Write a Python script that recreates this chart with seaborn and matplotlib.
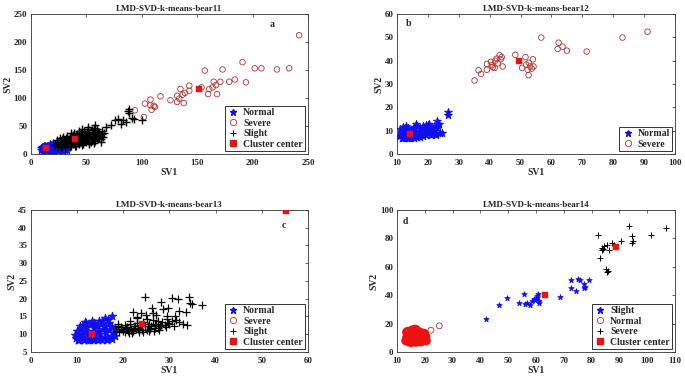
import matplotlib
matplotlib.use("Agg")
import matplotlib.pyplot as plt
import seaborn as sns
from matplotlib.lines import Line2D

sns.set_theme(style="white")
plt.rcParams.update({
    "font.family": ["Liberation Serif", "DejaVu Serif"],
    "font.weight": "bold",
    "font.size": 6.5,
    "axes.edgecolor": "#333333",
    "axes.linewidth": 0.6,
    "xtick.direction": "in",
    "ytick.direction": "in",
    "xtick.top": True,
    "ytick.right": True,
    "xtick.major.size": 2,
    "ytick.major.size": 2,
    "xtick.major.width": 0.5,
    "ytick.major.width": 0.5,
    "xtick.major.pad": 3.5,
    "ytick.major.pad": 2.5,
})

BLUE = "#1010ee"
DRED = "#b8302c"
RED = "#ee1111"

# ---------------- bear11 (a) ----------------
a_norm_x = [9, 10, 11, 12, 12, 13, 14, 14, 15, 16, 16, 17, 18, 18, 19, 20, 20, 21, 22, 22,
            23, 24, 24, 25, 26, 26, 27, 28, 28, 29, 30, 31, 32, 10, 13, 17, 20, 23, 15, 19,
            11, 14, 17, 21, 25, 29, 33, 12, 16, 20, 9, 11, 13, 15, 18, 22, 26, 30, 24, 27]
a_norm_y = [8, 10, 7, 9, 12, 8, 10, 13, 7, 9, 12, 14, 8, 11, 13, 9, 16, 7, 11, 14,
            9, 12, 17, 8, 10, 14, 18, 9, 12, 7, 10, 8, 9, 12, 15, 17, 19, 19, 11, 6,
            6, 6, 6, 6, 6, 6, 7, 14, 15, 16, 11, 13, 11, 14, 16, 18, 16, 13, 20, 15]
a_sev_x = [94, 102, 103, 108, 108, 109, 112, 111, 117, 126, 132, 132, 134, 135, 137, 138, 139,
           143, 143, 154, 157, 160, 161, 164, 165, 168, 167, 171, 173, 179, 184, 191, 194, 202,
           208, 222, 233, 242]
a_sev_y = [78, 66, 90, 97, 87, 79, 84, 86, 103, 96, 104, 93, 99, 116, 106, 91, 109,
           122, 113, 119, 149, 107, 116, 119, 129, 107, 123, 129, 151, 129, 133, 164, 128, 153,
           153, 151, 153, 212]
a_sli_x = [22, 24, 25, 26, 27, 28, 28, 30, 30, 31, 32, 32, 33, 34, 35, 35, 36, 37, 37, 38,
           38, 39, 40, 40, 41, 42, 42, 43, 43, 44, 45, 45, 46, 47, 47, 48, 48, 49, 50, 50,
           51, 52, 52, 53, 54, 54, 55, 55, 56, 57, 57, 58, 58, 59, 60, 60, 61, 62, 62, 63,
           64, 65, 58, 59, 52, 46, 44, 36, 33, 29, 26, 24, 35, 40, 46, 53, 57, 63,
           66, 68, 72, 76, 79, 81, 83, 86, 89, 89, 91, 100, 88, 93,
           27, 31, 34, 39, 44, 49, 55, 61, 36, 42, 48, 56,
           29, 33, 38, 41, 45, 50, 53, 56, 59, 62, 31, 37, 43, 47, 51, 55, 60, 64,
           34, 39, 42, 46, 49, 54, 57, 61, 40, 44, 51, 53, 38, 48]
a_sli_y = [16, 20, 14, 18, 22, 15, 26, 19, 24, 13, 21, 29, 17, 25, 20, 31, 15, 23, 28, 18,
           34, 26, 21, 30, 15, 25, 36, 19, 32, 27, 22, 38, 30, 18, 34, 25, 41, 29, 21, 36,
           32, 26, 44, 38, 22, 30, 35, 42, 27, 33, 47, 24, 38, 30, 36, 44, 28, 33, 40, 26,
           36, 31, 52, 40, 48, 44, 41, 38, 33, 30, 28, 25, 12, 14, 16, 17, 20, 22,
           38, 48, 52, 61, 63, 53, 60, 58, 81, 73, 64, 60, 76, 63,
           13, 17, 20, 24, 20, 24, 28, 32, 26, 30, 34, 40,
           22, 27, 30, 33, 35, 31, 28, 39, 34, 29, 17, 21, 23, 25, 28, 33, 31, 41,
           23, 38, 29, 26, 33, 26, 36, 40, 17, 17, 39, 20, 24, 37]
a_cen_x = [14, 40, 152]
a_cen_y = [11, 27, 116]

# ---------------- bear12 (b) ----------------
b_norm_x = [11, 11.5, 12, 12, 12.5, 13, 13, 13.5, 14, 14, 14.5, 15, 15, 15.5, 16, 16, 16.5, 17,
            17, 17.5, 18, 18, 18.5, 19, 19, 19.5, 20, 20, 20.5, 21, 21, 21.5, 22, 22, 22.5, 23,
            23, 23.5, 24, 24.5, 11, 12, 13, 10.8, 26.6, 26.6, 23.2, 16, 20, 11.5, 12.5, 13.5,
            14.5, 15.5, 16.5, 17.5, 18.5, 19.5, 21, 22.5]
b_norm_y = [7.5, 9, 7, 8.5, 10, 7.5, 9, 11, 7, 8.5, 10, 7.5, 9.5, 11.5, 8, 10, 12, 7.5,
            9, 11, 8, 10, 12, 8.5, 10.5, 12.5, 9, 11, 13, 9.5, 11.5, 8.5, 10, 12, 9, 11,
            14, 13, 9, 9, 10.5, 11.5, 12, 8, 16.8, 18, 12.5, 13, 12.5, 6.8, 6.8, 6.9,
            7, 7, 7.2, 7.4, 7.6, 8, 8, 8.2]
b_sev_x = [35.1, 36.4, 37.2, 39.1, 39.1, 40.4, 40.7, 41.0, 41.6, 41.8, 42.3, 42.6, 43.2, 43.6,
           44.2, 43.9, 48.3, 50.5, 51.6, 51.8, 52.3, 52.6, 52.7, 53.1, 53.6, 54.0, 54.2, 56.7,
           62.0, 62.3, 63.6, 65.0, 71.4, 83.0, 91.1]
b_sev_y = [31.5, 35.9, 34.3, 38.6, 36.1, 39.5, 38.0, 37.2, 36.9, 40.0, 40.9, 38.9, 42.3, 40.6,
           37.5, 41.5, 42.5, 36.9, 41.5, 38.3, 36.1, 33.8, 39.1, 37.5, 36.6, 40.6, 37.5, 49.9,
           45.0, 47.7, 46.0, 44.3, 43.9, 49.9, 52.4]
b_cen_x = [14.1, 49.5]
b_cen_y = [8.4, 39.9]

# ---------------- bear13 (c) ----------------
c_norm_x = [9.8, 10.2, 10.5, 10.8, 11, 11.3, 11.5, 11.8, 12, 12.3, 12.5, 12.8, 13, 13.3, 13.6,
            14, 14, 14.3, 14.6, 15, 15, 15.3, 15.6, 16, 16, 16.3, 16.6, 17, 17, 17.3, 17.6, 18,
            18.2, 18.3, 10, 10.6, 11.2, 12.6, 13.8, 16.1, 17.7, 12, 15.5, 9.6, 10.5, 11.5,
            12.5, 13.5, 14.5, 15.5, 16.5, 17.5, 11.8, 13.2, 14.8, 16.8]
c_norm_y = [9, 8.5, 10, 11.5, 9, 12.5, 8.5, 10.5, 12, 9.2, 11, 8.4, 12.8, 10, 11.8,
            8.6, 9.8, 12.2, 11, 8.8, 10.2, 13, 11.6, 9.2, 12.4, 10.6, 8.8, 11.2, 13.2, 9.6, 12, 10.4,
            11.8, 9.4, 10.8, 12.2, 10.2, 9.6, 13.2, 14.7, 15, 13.2, 13.8, 9.8, 8.5, 8.4,
            8.4, 8.4, 8.4, 8.4, 8.5, 8.6, 13.5, 13.6, 13.7, 13.9]
c_sli_x = [18.5, 19, 19.5, 20, 20.3, 20.7, 21, 21.4, 21.8, 22.2, 22.5, 22.9, 23.2, 23.6, 24,
           24.4, 24.8, 25.2, 25.6, 26, 26.4, 26.8, 27.2, 27.6, 28, 28.5, 29, 29.5, 30, 30.5,
           31, 31.5, 32.1, 32.9, 33.9, 18.8, 21.5, 23, 22.9, 23.8, 22.2, 25.1, 27.1, 26.2,
           28.7, 29.8, 29.4, 31.2, 33.5, 28.2, 24.7, 30.5, 31.9, 34.2, 34.4, 34.8, 37.1, 32,
           26.5, 25, 19.2, 20.5, 21.2, 22, 23.4, 24.2, 25.5, 26.6, 27.8,
           19.6, 20.9, 22.4, 23.9, 25.3, 26.9, 28.3, 29.7, 19.9, 21.7, 23.5, 25.9, 27.5, 29.2]
c_sli_y = [11, 12.2, 11.5, 10.8, 12.6, 11.8, 11, 12.8, 11.6, 10.9, 12.3, 13.2, 11.4, 12.7, 11.2,
           13.5, 12.2, 11.3, 13, 12.2, 14, 11.8, 12.9, 13.6, 12.3, 13.4, 12.6, 14.4, 12.8, 13.6,
           12.4, 14, 13.5, 13, 12.6, 13, 13.8, 14.5, 14.9, 16.1, 16.3, 14.2, 15.5, 17.4,
           17.1, 17.4, 15, 15, 16.2, 19.2, 20.6, 20.2, 19.9, 20.5, 18.8, 18.6, 18.2, 16.5,
           16, 15.5, 10.6, 10.5, 10.4, 10.4, 10.5, 10.6, 10.8, 11, 11.2,
           11.9, 12.1, 11.8, 12.2, 12.4, 12.6, 12.7, 13.1, 11.3, 11.2, 11.3, 11.6, 11.7, 12.1]
c_cen_x = [13.3, 24.0, 55.2]
c_cen_y = [10.2, 13.0, 44.6]

# ---------------- bear14 (d) ----------------
d_sli_x = [41.9, 46.6, 49.4, 53.8, 55.7, 56.2, 56.7, 57.7, 58.7, 59.7, 60.3, 60.8, 61.0, 60.5,
           68.8, 72.6, 72.6, 74.5, 75.0, 76.0, 77.1, 77.1, 77.7, 79.2, 59.2, 61.2]
d_sli_y = [23.5, 33.4, 37.9, 34.6, 40.7, 34.1, 34.6, 32.9, 35.8, 36.9, 39.3, 40.7, 35.8, 38.0,
           38.4, 50.4, 44.9, 43.3, 51.3, 50.6, 48.2, 45.4, 45.9, 50.6, 37.5, 34.2]
d_norm_x = [13.2, 13.5, 13.8, 14, 14.2, 14.5, 14.8, 15, 15.2, 15.5, 15.8, 16, 16, 16.3, 16.6, 17,
            17, 17.3, 17.6, 17.8, 18, 18.2, 18.5, 18.8, 19, 19.3, 19.6, 20, 20.3, 20.5, 14,
            15.5, 16.5, 13.5, 14.6, 16.8, 18.6, 19.8, 15.2, 17.2]
d_norm_y = [8, 10, 12, 7.5, 9.5, 11.5, 13.5, 8, 10, 12, 14.5, 7.5, 9, 11, 13, 15.5,
            8.5, 10.5, 12.5, 14, 7.5, 9.5, 11.5, 13.5, 8.5, 10.5, 12, 9, 11, 8, 14.5,
            15.5, 16, 14, 7, 7, 7.2, 13, 6.8, 14.8]
d_norm_out_x = [22.2, 25.2]
d_norm_out_y = [15.3, 18.4]
d_sev_x = [82.2, 83.0, 83.7, 84.5, 83.9, 85.1, 85.4, 85.7, 86.4, 87.4, 90.6, 93.6, 94.6, 94.8,
           94.6, 101.3, 106.8, 85.8, 84.2, 88.2]
d_sev_y = [82.1, 66.4, 73.4, 74.6, 71.8, 58.4, 56.5, 75.3, 71.5, 76.5, 78.4, 88.7, 81.6, 78.4,
           76.5, 82.4, 87.5, 57.0, 72.8, 75.6]
d_cen_x = [63.3, 88.8]
d_cen_y = [40.0, 74.1]

fig = plt.figure(figsize=(6.85, 3.78), dpi=100)
ax_a = fig.add_axes([0.0448, 0.5926, 0.4048, 0.3704])
ax_b = fig.add_axes([0.5796, 0.5926, 0.4058, 0.3704])
ax_c = fig.add_axes([0.0448, 0.0688, 0.4048, 0.3757])
ax_d = fig.add_axes([0.5796, 0.0688, 0.4058, 0.3757])


def star(ax, x, y, color=BLUE, s=16):
    sns.scatterplot(x=x, y=y, marker="*", color=color, edgecolor=color,
                    linewidth=0.6, s=s, ax=ax, zorder=2)


def plus(ax, x, y, s=20, lw=0.7):
    sns.scatterplot(x=x, y=y, marker="+", color="black", linewidth=lw, s=s, ax=ax, zorder=3)


def ring(ax, x, y, color=DRED, s=16, lw=0.6):
    sns.scatterplot(x=x, y=y, marker="o", facecolor="none", edgecolor=color,
                    linewidth=lw, s=s, ax=ax, zorder=2)


def center(ax, x, y):
    sns.scatterplot(x=x, y=y, marker="s", color=RED, edgecolor=RED, linewidth=0.3,
                    s=22, ax=ax, zorder=5)


h_norm = Line2D([], [], ls="none", marker="*", color=BLUE, markersize=4.5)
h_sev = Line2D([], [], ls="none", marker="o", mfc="none", mec=DRED, markersize=4.5, mew=0.6)
h_sli = Line2D([], [], ls="none", marker="+", color="black", markersize=5, mew=0.7)
h_cen = Line2D([], [], ls="none", marker="s", color=RED, markersize=4.5)
h_sli_b = Line2D([], [], ls="none", marker="*", color=BLUE, markersize=4.5)
h_norm_r = Line2D([], [], ls="none", marker="o", mfc="none", mec=DRED, markersize=4.5, mew=0.6)
h_sev_k = Line2D([], [], ls="none", marker="+", color="black", markersize=5, mew=0.7)


def legend(ax, handles, labels):
    leg = ax.legend(handles, labels, loc="lower right", frameon=True, fancybox=False,
                    borderpad=0.25, labelspacing=0.15, handletextpad=0.4,
                    handlelength=1.2, borderaxespad=0.3,
                    prop={"family": ["Liberation Serif"], "weight": "bold", "size": 7})
    leg.get_frame().set_edgecolor("black")
    leg.get_frame().set_linewidth(0.7)
    leg.set_zorder(10)


# a
star(ax_a, a_norm_x, a_norm_y, s=34)
plus(ax_a, a_sli_x, a_sli_y, s=28, lw=1.0)
ring(ax_a, a_sev_x, a_sev_y)
center(ax_a, a_cen_x, a_cen_y)
ax_a.set_xlim(0, 250)
ax_a.set_ylim(0, 250)
ax_a.set_xticks([0, 50, 100, 150, 200, 250])
ax_a.set_yticks([0, 50, 100, 150, 200, 250])
ax_a.set_title("LMD-SVD-k-means-bear11", fontsize=6.5, fontweight="bold", pad=2)
ax_a.text(215, 226, "a", fontsize=7, fontweight="bold")
legend(ax_a, [h_norm, h_sev, h_sli, h_cen], ["Normal", "Severe", "Slight", "Cluster center"])

# b
star(ax_b, b_norm_x, b_norm_y, s=36)
ring(ax_b, b_sev_x, b_sev_y)
center(ax_b, b_cen_x, b_cen_y)
ax_b.set_xlim(10, 100)
ax_b.set_ylim(0, 60)
ax_b.set_xticks(range(10, 101, 10))
ax_b.set_yticks(range(0, 61, 10))
ax_b.set_title("LMD-SVD-k-means-bear12", fontsize=6.5, fontweight="bold", pad=2)
ax_b.text(13, 55, "b", fontsize=7, fontweight="bold")
legend(ax_b, [h_norm, h_sev], ["Normal", "Severe"])

# c
star(ax_c, c_norm_x, c_norm_y, s=40)
plus(ax_c, c_sli_x, c_sli_y, s=26, lw=0.9)
center(ax_c, c_cen_x, c_cen_y)
ax_c.set_xlim(0, 60)
ax_c.set_ylim(5, 45)
ax_c.set_xticks(range(0, 61, 10))
ax_c.set_yticks(range(5, 46, 5))
ax_c.set_title("LMD-SVD-k-means-bear13", fontsize=6.5, fontweight="bold", pad=2)
ax_c.text(54.3, 40, "c", fontsize=7, fontweight="bold")
legend(ax_c, [h_norm, h_sev, h_sli, h_cen], ["Normal", "Severe", "Slight", "Cluster center"])

# d
ring(ax_d, d_norm_x, d_norm_y, color=RED, s=26, lw=1.6)
ring(ax_d, d_norm_out_x, d_norm_out_y, color=DRED, s=18, lw=0.6)
star(ax_d, d_sli_x, d_sli_y)
plus(ax_d, d_sev_x, d_sev_y)
center(ax_d, d_cen_x, d_cen_y)
ax_d.set_xlim(10, 110)
ax_d.set_ylim(0, 100)
ax_d.set_xticks(range(10, 111, 10))
ax_d.set_yticks(range(0, 101, 20))
ax_d.set_title("LMD-SVD-k-means-bear14", fontsize=6.5, fontweight="bold", pad=2)
ax_d.text(12, 90, "d", fontsize=7, fontweight="bold")
legend(ax_d, [h_sli_b, h_norm_r, h_sev_k, h_cen], ["Slight", "Normal", "Severe", "Cluster center"])

for ax in (ax_a, ax_b, ax_c, ax_d):
    ax.set_xlabel("SV1", fontsize=7, fontweight="bold", labelpad=1)
    ax.set_ylabel("SV2", fontsize=7, fontweight="bold", labelpad=1)
    for lab in ax.get_xticklabels() + ax.get_yticklabels():
        lab.set_fontweight("bold")
        lab.set_fontsize(6.5)
    for sp in ax.spines.values():
        sp.set_visible(True)
        sp.set_color("#333333")

fig.savefig("out.png", dpi=100)
